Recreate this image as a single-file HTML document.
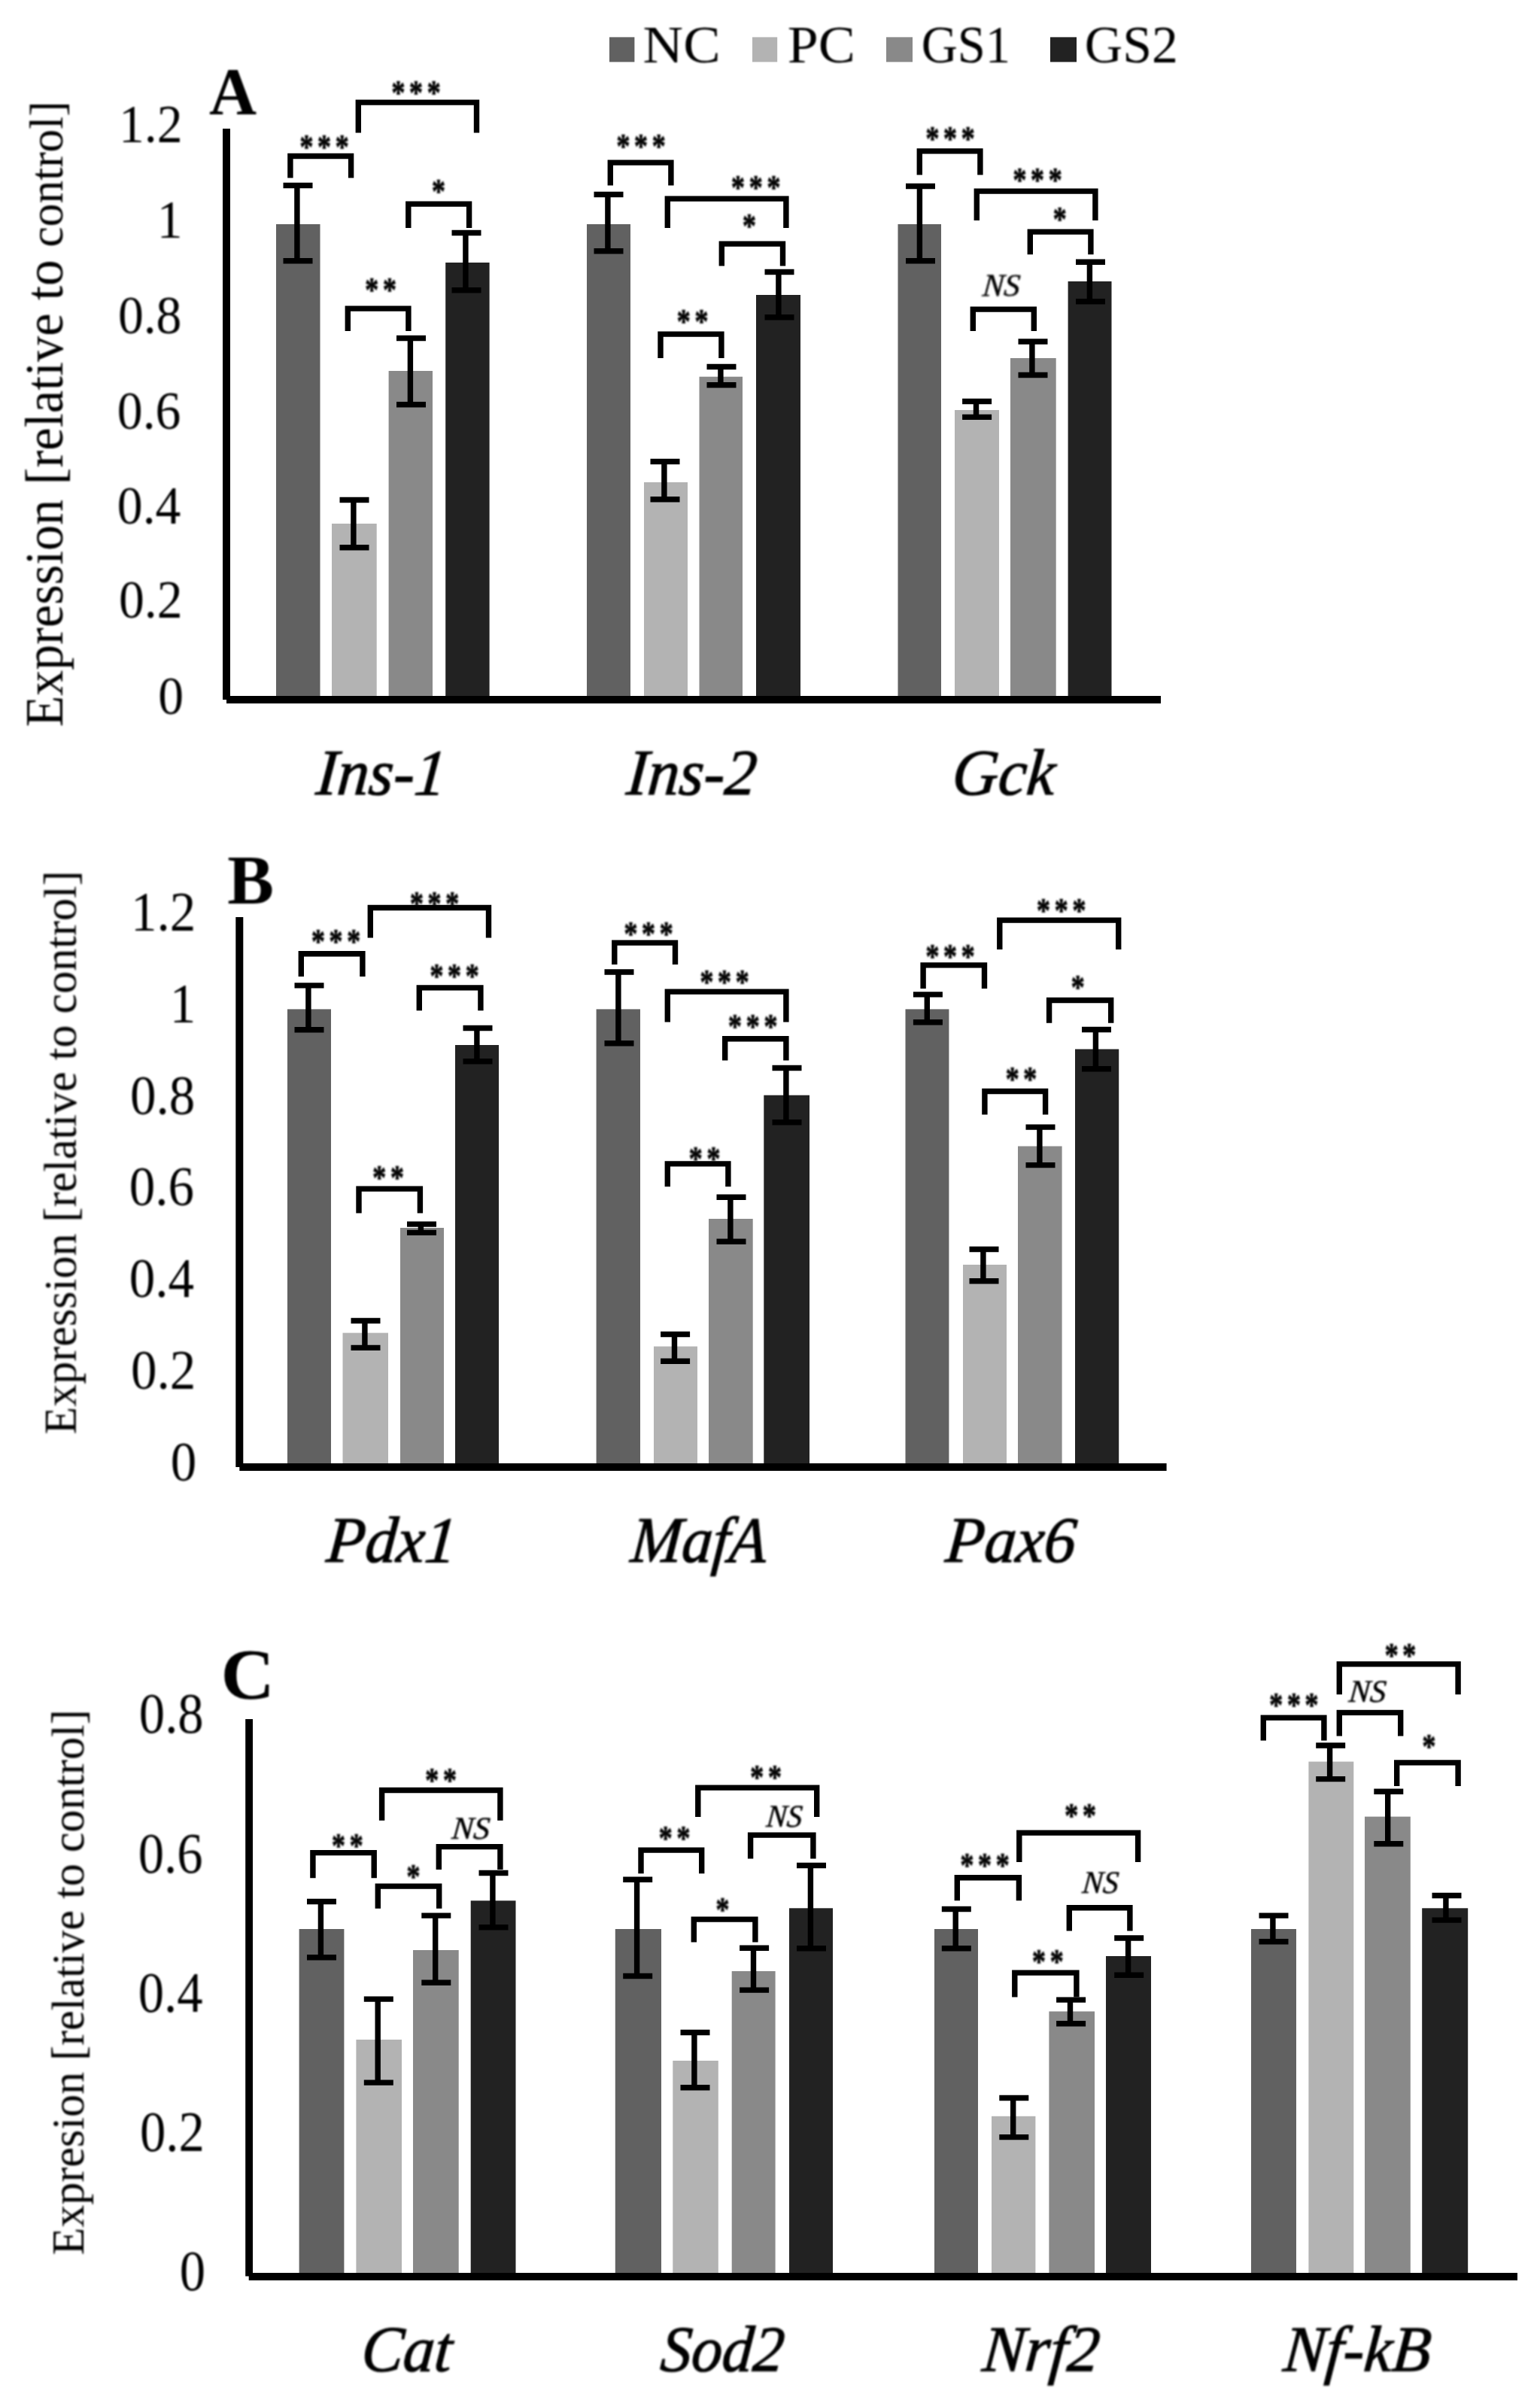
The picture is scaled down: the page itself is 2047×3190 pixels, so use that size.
<!DOCTYPE html>
<html><head><meta charset="utf-8"><title>Figure</title>
<style>
html,body{margin:0;padding:0;background:#fff}
svg{display:block}
text{font-family:"Liberation Serif",serif;fill:#000}
.st{font-family:"Liberation Serif",serif}
</style></head><body>
<svg width="2047" height="3190" viewBox="0 0 2047 3190">
<defs><filter id="b" x="0" y="0" width="2047" height="3190" filterUnits="userSpaceOnUse"><feGaussianBlur stdDeviation="0.9"/></filter></defs>
<rect width="2047" height="3190" fill="#fff"/>
<rect x="810.0" y="49.4" width="33.4" height="33.0" fill="#616161"/>
<rect x="1000.0" y="49.4" width="33.2" height="33.0" fill="#b3b3b3"/>
<rect x="1178.0" y="49.4" width="35.0" height="33.0" fill="#898989"/>
<rect x="1396.0" y="49.4" width="35.0" height="33.0" fill="#222222"/>
<rect x="367.0" y="298.0" width="58.5" height="629.0" fill="#616161"/>
<rect x="441.0" y="696.0" width="59.7" height="231.0" fill="#b3b3b3"/>
<rect x="516.6" y="493.0" width="58.4" height="434.0" fill="#898989"/>
<rect x="592.2" y="349.0" width="58.4" height="578.0" fill="#222222"/>
<rect x="780.0" y="298.0" width="58.0" height="629.0" fill="#616161"/>
<rect x="856.0" y="641.0" width="58.0" height="286.0" fill="#b3b3b3"/>
<rect x="929.5" y="500.7" width="57.5" height="426.3" fill="#898989"/>
<rect x="1005.0" y="392.0" width="59.0" height="535.0" fill="#222222"/>
<rect x="1193.5" y="298.0" width="57.5" height="629.0" fill="#616161"/>
<rect x="1269.0" y="545.0" width="59.0" height="382.0" fill="#b3b3b3"/>
<rect x="1343.0" y="476.0" width="60.7" height="451.0" fill="#898989"/>
<rect x="1419.6" y="374.0" width="57.9" height="553.0" fill="#222222"/>
<rect x="296" y="171" width="10" height="759" fill="#000"/>
<rect x="301" y="925" width="1242" height="10" fill="#000"/>
<path d="M376.5 246.5H415.5M376.5 346.8H415.5M394.9 246.5V346.8" stroke="#000" stroke-width="7.4" fill="none"/>
<path d="M451.5 664.5H490.5M451.5 727.8H490.5M469.9 664.5V727.8" stroke="#000" stroke-width="7.4" fill="none"/>
<path d="M527.0 449.5H566.0M527.0 537.8H566.0M545.4 449.5V537.8" stroke="#000" stroke-width="7.4" fill="none"/>
<path d="M600.5 309.5H639.5M600.5 385.8H639.5M618.9 309.5V385.8" stroke="#000" stroke-width="7.4" fill="none"/>
<path d="M789.5 258.5H828.5M789.5 333.8H828.5M807.9 258.5V333.8" stroke="#000" stroke-width="7.4" fill="none"/>
<path d="M864.5 613.5H903.5M864.5 663.8H903.5M882.9 613.5V663.8" stroke="#000" stroke-width="7.4" fill="none"/>
<path d="M939.5 487.5H978.5M939.5 511.8H978.5M957.9 487.5V511.8" stroke="#000" stroke-width="7.4" fill="none"/>
<path d="M1016.5 361.5H1055.5M1016.5 421.8H1055.5M1034.9 361.5V421.8" stroke="#000" stroke-width="7.4" fill="none"/>
<path d="M1204.0 247.5H1243.0M1204.0 346.8H1243.0M1222.4 247.5V346.8" stroke="#000" stroke-width="7.4" fill="none"/>
<path d="M1279.1 533.5H1318.1M1279.1 554.4H1318.1M1297.5 533.5V554.4" stroke="#000" stroke-width="7.4" fill="none"/>
<path d="M1353.5 454.0H1392.5M1353.5 498.5H1392.5M1371.9 454.0V498.5" stroke="#000" stroke-width="7.4" fill="none"/>
<path d="M1430.0 348.2H1469.0M1430.0 400.8H1469.0M1448.4 348.2V400.8" stroke="#000" stroke-width="7.4" fill="none"/>
<path d="M385.9 236.5V207.5H466.6V236.5" stroke="#000" stroke-width="7.4" fill="none" stroke-linejoin="miter"/>
<path d="M476.3 176.5V136.1H633.5V176.5" stroke="#000" stroke-width="7.4" fill="none" stroke-linejoin="miter"/>
<path d="M542.8 303.0V271.1H623.6V303.0" stroke="#000" stroke-width="7.4" fill="none" stroke-linejoin="miter"/>
<path d="M462.3 440.0V410.1H542.9V440.0" stroke="#000" stroke-width="7.4" fill="none" stroke-linejoin="miter"/>
<path d="M811.3 246.5V216.1H891.9V246.5" stroke="#000" stroke-width="7.4" fill="none" stroke-linejoin="miter"/>
<path d="M887.3 303.0V264.1H1044.9V303.0" stroke="#000" stroke-width="7.4" fill="none" stroke-linejoin="miter"/>
<path d="M959.3 353.5V324.1H1040.5V353.5" stroke="#000" stroke-width="7.4" fill="none" stroke-linejoin="miter"/>
<path d="M878.0 475.9V444.1H958.9V475.9" stroke="#000" stroke-width="7.4" fill="none" stroke-linejoin="miter"/>
<path d="M1222.3 232.5V200.9H1302.9V232.5" stroke="#000" stroke-width="7.4" fill="none" stroke-linejoin="miter"/>
<path d="M1298.3 293.1V254.1H1455.9V293.1" stroke="#000" stroke-width="7.4" fill="none" stroke-linejoin="miter"/>
<path d="M1369.3 338.3V308.1H1449.9V338.3" stroke="#000" stroke-width="7.4" fill="none" stroke-linejoin="miter"/>
<path d="M1293.3 440.0V411.1H1374.3V440.0" stroke="#000" stroke-width="7.4" fill="none" stroke-linejoin="miter"/>
<rect x="382.0" y="1341.4" width="58.0" height="605.1" fill="#616161"/>
<rect x="455.5" y="1771.6" width="60.5" height="174.9" fill="#b3b3b3"/>
<rect x="532.0" y="1632.0" width="58.0" height="314.5" fill="#898989"/>
<rect x="605.0" y="1389.0" width="58.0" height="557.5" fill="#222222"/>
<rect x="792.6" y="1341.4" width="58.4" height="605.1" fill="#616161"/>
<rect x="869.0" y="1789.6" width="58.0" height="156.9" fill="#b3b3b3"/>
<rect x="942.0" y="1620.0" width="58.7" height="326.5" fill="#898989"/>
<rect x="1015.3" y="1455.7" width="60.7" height="490.8" fill="#222222"/>
<rect x="1203.5" y="1341.4" width="57.9" height="605.1" fill="#616161"/>
<rect x="1280.0" y="1681.0" width="58.0" height="265.5" fill="#b3b3b3"/>
<rect x="1353.0" y="1523.5" width="58.6" height="423.0" fill="#898989"/>
<rect x="1429.0" y="1394.5" width="58.2" height="552.0" fill="#222222"/>
<rect x="313.3" y="1219" width="10" height="731" fill="#000"/>
<rect x="318.3" y="1945" width="1232.3" height="10" fill="#000"/>
<path d="M391.5 1309.9H430.5M391.5 1368.8H430.5M409.9 1309.9V1368.8" stroke="#000" stroke-width="7.4" fill="none"/>
<path d="M466.5 1755.5H505.5M466.5 1791.4H505.5M484.9 1755.5V1791.4" stroke="#000" stroke-width="7.4" fill="none"/>
<path d="M541.0 1627.1H580.0M541.0 1638.4H580.0M559.4 1627.1V1638.4" stroke="#000" stroke-width="7.4" fill="none"/>
<path d="M615.5 1366.5H654.5M615.5 1410.8H654.5M633.9 1366.5V1410.8" stroke="#000" stroke-width="7.4" fill="none"/>
<path d="M803.5 1292.0H842.5M803.5 1386.8H842.5M821.9 1292.0V1386.8" stroke="#000" stroke-width="7.4" fill="none"/>
<path d="M878.1 1773.5H917.1M878.1 1809.3H917.1M896.5 1773.5V1809.3" stroke="#000" stroke-width="7.4" fill="none"/>
<path d="M952.5 1591.2H991.5M952.5 1650.3H991.5M970.9 1591.2V1650.3" stroke="#000" stroke-width="7.4" fill="none"/>
<path d="M1026.5 1419.5H1065.5M1026.5 1491.8H1065.5M1044.9 1419.5V1491.8" stroke="#000" stroke-width="7.4" fill="none"/>
<path d="M1213.9 1321.9H1252.9M1213.9 1358.8H1252.9M1232.3 1321.9V1358.8" stroke="#000" stroke-width="7.4" fill="none"/>
<path d="M1288.5 1660.5H1327.5M1288.5 1702.8H1327.5M1306.9 1660.5V1702.8" stroke="#000" stroke-width="7.4" fill="none"/>
<path d="M1363.5 1498.1H1402.5M1363.5 1548.6H1402.5M1381.9 1498.1V1548.6" stroke="#000" stroke-width="7.4" fill="none"/>
<path d="M1438.0 1368.5H1477.0M1438.0 1420.8H1477.0M1456.4 1368.5V1420.8" stroke="#000" stroke-width="7.4" fill="none"/>
<path d="M400.3 1298.0V1267.7H481.9V1298.0" stroke="#000" stroke-width="7.4" fill="none" stroke-linejoin="miter"/>
<path d="M492.3 1246.5V1206.5H649.5V1246.5" stroke="#000" stroke-width="7.4" fill="none" stroke-linejoin="miter"/>
<path d="M557.3 1343.2V1312.9H638.9V1343.2" stroke="#000" stroke-width="7.4" fill="none" stroke-linejoin="miter"/>
<path d="M477.0 1612.5V1580.1H558.4V1612.5" stroke="#000" stroke-width="7.4" fill="none" stroke-linejoin="miter"/>
<path d="M816.8 1282.0V1253.1H897.5V1282.0" stroke="#000" stroke-width="7.4" fill="none" stroke-linejoin="miter"/>
<path d="M887.3 1358.5V1318.1H1044.9V1358.5" stroke="#000" stroke-width="7.4" fill="none" stroke-linejoin="miter"/>
<path d="M963.7 1409.5V1380.7H1044.9V1409.5" stroke="#000" stroke-width="7.4" fill="none" stroke-linejoin="miter"/>
<path d="M887.3 1577.2V1546.9H967.9V1577.2" stroke="#000" stroke-width="7.4" fill="none" stroke-linejoin="miter"/>
<path d="M1227.1 1313.9V1282.9H1308.5V1313.9" stroke="#000" stroke-width="7.4" fill="none" stroke-linejoin="miter"/>
<path d="M1328.8 1262.1V1223.1H1486.7V1262.1" stroke="#000" stroke-width="7.4" fill="none" stroke-linejoin="miter"/>
<path d="M1394.6 1359.8V1329.5H1476.7V1359.8" stroke="#000" stroke-width="7.4" fill="none" stroke-linejoin="miter"/>
<path d="M1308.9 1481.5V1450.5H1389.6V1481.5" stroke="#000" stroke-width="7.4" fill="none" stroke-linejoin="miter"/>
<rect x="397.6" y="2564.0" width="59.8" height="459.0" fill="#616161"/>
<rect x="473.4" y="2711.0" width="60.6" height="312.0" fill="#b3b3b3"/>
<rect x="549.0" y="2592.0" width="60.7" height="431.0" fill="#898989"/>
<rect x="625.7" y="2526.3" width="59.8" height="496.7" fill="#222222"/>
<rect x="817.8" y="2564.0" width="61.2" height="459.0" fill="#616161"/>
<rect x="894.3" y="2739.0" width="60.5" height="284.0" fill="#b3b3b3"/>
<rect x="972.7" y="2620.0" width="57.9" height="403.0" fill="#898989"/>
<rect x="1049.0" y="2536.3" width="58.0" height="486.7" fill="#222222"/>
<rect x="1242.0" y="2564.0" width="58.0" height="459.0" fill="#616161"/>
<rect x="1318.0" y="2812.8" width="58.4" height="210.2" fill="#b3b3b3"/>
<rect x="1394.4" y="2673.5" width="60.6" height="349.5" fill="#898989"/>
<rect x="1470.0" y="2600.0" width="60.0" height="423.0" fill="#222222"/>
<rect x="1663.0" y="2564.0" width="60.0" height="459.0" fill="#616161"/>
<rect x="1739.4" y="2341.5" width="59.9" height="681.5" fill="#b3b3b3"/>
<rect x="1814.0" y="2414.6" width="60.8" height="608.4" fill="#898989"/>
<rect x="1890.2" y="2536.3" width="61.0" height="486.7" fill="#222222"/>
<rect x="326.2" y="2285" width="9.8" height="740.5" fill="#000"/>
<rect x="330.7" y="3021" width="1686.3" height="10" fill="#000"/>
<path d="M408.0 2527.5H447.0M408.0 2601.8H447.0M426.4 2527.5V2601.8" stroke="#000" stroke-width="7.4" fill="none"/>
<path d="M483.8 2657.1H522.8M483.8 2768.1H522.8M502.2 2657.1V2768.1" stroke="#000" stroke-width="7.4" fill="none"/>
<path d="M560.3 2546.1H599.3M560.3 2635.2H599.3M578.7 2546.1V2635.2" stroke="#000" stroke-width="7.4" fill="none"/>
<path d="M636.5 2489.5H675.5M636.5 2561.8H675.5M654.9 2489.5V2561.8" stroke="#000" stroke-width="7.4" fill="none"/>
<path d="M828.2 2498.2H867.2M828.2 2626.5H867.2M846.6 2498.2V2626.5" stroke="#000" stroke-width="7.4" fill="none"/>
<path d="M904.5 2701.5H943.5M904.5 2774.8H943.5M922.9 2701.5V2774.8" stroke="#000" stroke-width="7.4" fill="none"/>
<path d="M983.1 2589.3H1022.1M983.1 2645.1H1022.1M1001.5 2589.3V2645.1" stroke="#000" stroke-width="7.4" fill="none"/>
<path d="M1059.0 2479.5H1098.0M1059.0 2589.8H1098.0M1077.4 2479.5V2589.8" stroke="#000" stroke-width="7.4" fill="none"/>
<path d="M1251.8 2537.5H1290.8M1251.8 2589.8H1290.8M1270.2 2537.5V2589.8" stroke="#000" stroke-width="7.4" fill="none"/>
<path d="M1328.3 2788.5H1367.3M1328.3 2840.6H1367.3M1346.7 2788.5V2840.6" stroke="#000" stroke-width="7.4" fill="none"/>
<path d="M1404.1 2658.1H1443.1M1404.1 2689.8H1443.1M1422.5 2658.1V2689.8" stroke="#000" stroke-width="7.4" fill="none"/>
<path d="M1481.2 2576.0H1520.2M1481.2 2625.2H1520.2M1499.6 2576.0V2625.2" stroke="#000" stroke-width="7.4" fill="none"/>
<path d="M1673.5 2546.1H1712.5M1673.5 2580.8H1712.5M1691.9 2546.1V2580.8" stroke="#000" stroke-width="7.4" fill="none"/>
<path d="M1749.2 2320.0H1788.2M1749.2 2364.6H1788.2M1767.6 2320.0V2364.6" stroke="#000" stroke-width="7.4" fill="none"/>
<path d="M1826.3 2381.2H1865.3M1826.3 2450.8H1865.3M1844.7 2381.2V2450.8" stroke="#000" stroke-width="7.4" fill="none"/>
<path d="M1903.5 2519.5H1942.5M1903.5 2552.1H1942.5M1921.9 2519.5V2552.1" stroke="#000" stroke-width="7.4" fill="none"/>
<path d="M415.9 2496.3V2462.6H497.2V2496.3" stroke="#000" stroke-width="7.4" fill="none" stroke-linejoin="miter"/>
<path d="M507.6 2419.8V2379.5H664.9V2419.8" stroke="#000" stroke-width="7.4" fill="none" stroke-linejoin="miter"/>
<path d="M502.3 2536.8V2507.1H583.7V2536.8" stroke="#000" stroke-width="7.4" fill="none" stroke-linejoin="miter"/>
<path d="M583.3 2484.9V2454.6H664.9V2484.9" stroke="#000" stroke-width="7.4" fill="none" stroke-linejoin="miter"/>
<path d="M852.0 2490.3V2459.1H932.7V2490.3" stroke="#000" stroke-width="7.4" fill="none" stroke-linejoin="miter"/>
<path d="M927.8 2415.1V2376.1H1085.7V2415.1" stroke="#000" stroke-width="7.4" fill="none" stroke-linejoin="miter"/>
<path d="M922.3 2581.5V2551.1H1003.9V2581.5" stroke="#000" stroke-width="7.4" fill="none" stroke-linejoin="miter"/>
<path d="M997.6 2470.5V2439.1H1080.9V2470.5" stroke="#000" stroke-width="7.4" fill="none" stroke-linejoin="miter"/>
<path d="M1272.3 2526.2V2495.8H1354.4V2526.2" stroke="#000" stroke-width="7.4" fill="none" stroke-linejoin="miter"/>
<path d="M1354.8 2475.0V2436.1H1512.6V2475.0" stroke="#000" stroke-width="7.4" fill="none" stroke-linejoin="miter"/>
<path d="M1421.3 2566.5V2535.7H1501.9V2566.5" stroke="#000" stroke-width="7.4" fill="none" stroke-linejoin="miter"/>
<path d="M1348.8 2654.5V2622.1H1430.9V2654.5" stroke="#000" stroke-width="7.4" fill="none" stroke-linejoin="miter"/>
<path d="M1679.3 2313.5V2283.1H1759.9V2313.5" stroke="#000" stroke-width="7.4" fill="none" stroke-linejoin="miter"/>
<path d="M1780.3 2252.2V2211.9H1938.1V2252.2" stroke="#000" stroke-width="7.4" fill="none" stroke-linejoin="miter"/>
<path d="M1780.3 2307.5V2276.4H1861.7V2307.5" stroke="#000" stroke-width="7.4" fill="none" stroke-linejoin="miter"/>
<path d="M1856.7 2373.9V2342.9H1938.1V2373.9" stroke="#000" stroke-width="7.4" fill="none" stroke-linejoin="miter"/>
<g filter="url(#b)">
<text x="854.64" y="82.5" font-size="70" textLength="102.97" lengthAdjust="spacingAndGlyphs">NC</text>
<text x="1046.85" y="82.5" font-size="70" textLength="90.04" lengthAdjust="spacingAndGlyphs">PC</text>
<text x="1224.72" y="82.5" font-size="70" textLength="118.40" lengthAdjust="spacingAndGlyphs">GS1</text>
<text x="1441.82" y="82.5" font-size="70" textLength="124.05" lengthAdjust="spacingAndGlyphs">GS2</text>
<text x="278.00" y="150.8" font-size="88" textLength="63.10" lengthAdjust="spacingAndGlyphs" font-weight="bold">A</text>
<text transform="translate(398.17,210.8) scale(0.8,1)" font-size="46" font-weight="bold" stroke="#000" stroke-width="0.7" stroke-linejoin="round" letter-spacing="6.62">***</text>
<text transform="translate(520.17,139.0) scale(0.8,1)" font-size="46" font-weight="bold" stroke="#000" stroke-width="0.7" stroke-linejoin="round" letter-spacing="6.62">***</text>
<text transform="translate(573.67,270.2) scale(0.8,1)" font-size="46" font-weight="bold" stroke="#000" stroke-width="0.7" stroke-linejoin="round" letter-spacing="6.62">*</text>
<text transform="translate(485.02,401.2) scale(0.8,1)" font-size="46" font-weight="bold" stroke="#000" stroke-width="0.7" stroke-linejoin="round" letter-spacing="6.62">**</text>
<text transform="translate(819.17,210.2) scale(0.8,1)" font-size="46" font-weight="bold" stroke="#000" stroke-width="0.7" stroke-linejoin="round" letter-spacing="6.62">***</text>
<text transform="translate(971.77,265.2) scale(0.8,1)" font-size="46" font-weight="bold" stroke="#000" stroke-width="0.7" stroke-linejoin="round" letter-spacing="6.62">***</text>
<text transform="translate(986.87,316.2) scale(0.8,1)" font-size="46" font-weight="bold" stroke="#000" stroke-width="0.7" stroke-linejoin="round" letter-spacing="6.62">*</text>
<text transform="translate(899.52,442.8) scale(0.8,1)" font-size="46" font-weight="bold" stroke="#000" stroke-width="0.7" stroke-linejoin="round" letter-spacing="6.62">**</text>
<text transform="translate(1230.17,200.2) scale(0.8,1)" font-size="46" font-weight="bold" stroke="#000" stroke-width="0.7" stroke-linejoin="round" letter-spacing="6.62">***</text>
<text transform="translate(1346.17,255.3) scale(0.8,1)" font-size="46" font-weight="bold" stroke="#000" stroke-width="0.7" stroke-linejoin="round" letter-spacing="6.62">***</text>
<text transform="translate(1399.47,307.2) scale(0.8,1)" font-size="46" font-weight="bold" stroke="#000" stroke-width="0.7" stroke-linejoin="round" letter-spacing="6.62">*</text>
<text transform="translate(1305.26,393.6) skewX(-5.0)" font-size="42" textLength="49.63" lengthAdjust="spacingAndGlyphs" font-style="italic" stroke="#000" stroke-width="0.5">NS</text>
<text x="157.96" y="188.8" font-size="72" textLength="84.51" lengthAdjust="spacingAndGlyphs">1.2</text>
<text x="208.67" y="315.6" font-size="72" textLength="33.80" lengthAdjust="spacingAndGlyphs">1</text>
<text x="156.90" y="443.4" font-size="72" textLength="84.51" lengthAdjust="spacingAndGlyphs">0.8</text>
<text x="155.85" y="569.7" font-size="72" textLength="84.51" lengthAdjust="spacingAndGlyphs">0.6</text>
<text x="155.85" y="696.0" font-size="72" textLength="84.51" lengthAdjust="spacingAndGlyphs">0.4</text>
<text x="157.96" y="820.8" font-size="72" textLength="84.51" lengthAdjust="spacingAndGlyphs">0.2</text>
<text x="210.31" y="948.6" font-size="72" textLength="33.80" lengthAdjust="spacingAndGlyphs">0</text>
<text transform="translate(83.3,966.26) rotate(-90)" font-size="72" textLength="302.36" lengthAdjust="spacingAndGlyphs">Expression</text>
<text transform="translate(83.3,644.28) rotate(-90)" font-size="72" textLength="227.88" lengthAdjust="spacingAndGlyphs">[relative</text>
<text transform="translate(83.3,399.20) rotate(-90)" font-size="72" textLength="54.07" lengthAdjust="spacingAndGlyphs">to</text>
<text transform="translate(83.3,328.42) rotate(-90)" font-size="64" textLength="194.15" lengthAdjust="spacingAndGlyphs">control]</text>
<text transform="translate(418.71,1056.3) skewX(-5.0)" font-size="86" textLength="172.30" lengthAdjust="spacingAndGlyphs" font-style="italic" stroke="#000" stroke-width="1.2">Ins-1</text>
<text transform="translate(831.31,1056.3) skewX(-5.0)" font-size="86" textLength="172.05" lengthAdjust="spacingAndGlyphs" font-style="italic" stroke="#000" stroke-width="1.2">Ins-2</text>
<text transform="translate(1264.03,1056.3) skewX(-5.0)" font-size="86" textLength="136.29" lengthAdjust="spacingAndGlyphs" font-style="italic" stroke="#000" stroke-width="1.2">Gck</text>
<text x="302.35" y="1201.0" font-size="94" textLength="61.79" lengthAdjust="spacingAndGlyphs" font-weight="bold">B</text>
<text transform="translate(413.67,1266.8) scale(0.8,1)" font-size="46" font-weight="bold" stroke="#000" stroke-width="0.7" stroke-linejoin="round" letter-spacing="6.62">***</text>
<text transform="translate(544.67,1216.8) scale(0.8,1)" font-size="46" font-weight="bold" stroke="#000" stroke-width="0.7" stroke-linejoin="round" letter-spacing="6.62">***</text>
<text transform="translate(571.17,1313.3) scale(0.8,1)" font-size="46" font-weight="bold" stroke="#000" stroke-width="0.7" stroke-linejoin="round" letter-spacing="6.62">***</text>
<text transform="translate(495.02,1580.6) scale(0.8,1)" font-size="46" font-weight="bold" stroke="#000" stroke-width="0.7" stroke-linejoin="round" letter-spacing="6.62">**</text>
<text transform="translate(829.17,1256.8) scale(0.8,1)" font-size="46" font-weight="bold" stroke="#000" stroke-width="0.7" stroke-linejoin="round" letter-spacing="6.62">***</text>
<text transform="translate(930.17,1321.3) scale(0.8,1)" font-size="46" font-weight="bold" stroke="#000" stroke-width="0.7" stroke-linejoin="round" letter-spacing="6.62">***</text>
<text transform="translate(967.77,1380.3) scale(0.8,1)" font-size="46" font-weight="bold" stroke="#000" stroke-width="0.7" stroke-linejoin="round" letter-spacing="6.62">***</text>
<text transform="translate(915.52,1555.8) scale(0.8,1)" font-size="46" font-weight="bold" stroke="#000" stroke-width="0.7" stroke-linejoin="round" letter-spacing="6.62">**</text>
<text transform="translate(1230.17,1286.8) scale(0.8,1)" font-size="46" font-weight="bold" stroke="#000" stroke-width="0.7" stroke-linejoin="round" letter-spacing="6.62">***</text>
<text transform="translate(1377.77,1226.2) scale(0.8,1)" font-size="46" font-weight="bold" stroke="#000" stroke-width="0.7" stroke-linejoin="round" letter-spacing="6.62">***</text>
<text transform="translate(1423.47,1327.8) scale(0.8,1)" font-size="46" font-weight="bold" stroke="#000" stroke-width="0.7" stroke-linejoin="round" letter-spacing="6.62">*</text>
<text transform="translate(1336.42,1449.6) scale(0.8,1)" font-size="46" font-weight="bold" stroke="#000" stroke-width="0.7" stroke-linejoin="round" letter-spacing="6.62">**</text>
<text x="174.00" y="1236.8" font-size="73" textLength="86.23" lengthAdjust="spacingAndGlyphs">1.2</text>
<text x="225.74" y="1358.6" font-size="73" textLength="34.49" lengthAdjust="spacingAndGlyphs">1</text>
<text x="172.92" y="1480.5" font-size="73" textLength="86.23" lengthAdjust="spacingAndGlyphs">0.8</text>
<text x="171.85" y="1602.3" font-size="73" textLength="86.23" lengthAdjust="spacingAndGlyphs">0.6</text>
<text x="171.85" y="1724.1" font-size="73" textLength="86.23" lengthAdjust="spacingAndGlyphs">0.4</text>
<text x="174.00" y="1846.0" font-size="73" textLength="86.23" lengthAdjust="spacingAndGlyphs">0.2</text>
<text x="226.86" y="1967.8" font-size="73" textLength="34.49" lengthAdjust="spacingAndGlyphs">0</text>
<text transform="translate(100.8,1906.54) rotate(-90)" font-size="62" textLength="749.19" lengthAdjust="spacingAndGlyphs">Expression [relative to control]</text>
<text transform="translate(432.51,2076.3) skewX(-5.0)" font-size="86" textLength="172.08" lengthAdjust="spacingAndGlyphs" font-style="italic" stroke="#000" stroke-width="1.2">Pdx1</text>
<text transform="translate(836.87,2076.3) skewX(-5.0)" font-size="86" textLength="180.41" lengthAdjust="spacingAndGlyphs" font-style="italic" stroke="#000" stroke-width="1.2">MafA</text>
<text transform="translate(1255.31,2076.3) skewX(-5.0)" font-size="86" textLength="172.83" lengthAdjust="spacingAndGlyphs" font-style="italic" stroke="#000" stroke-width="1.2">Pax6</text>
<text x="293.56" y="2258.0" font-size="96" textLength="71.46" lengthAdjust="spacingAndGlyphs" font-weight="bold">C</text>
<text transform="translate(440.82,2468.8) scale(0.8,1)" font-size="46" font-weight="bold" stroke="#000" stroke-width="0.7" stroke-linejoin="round" letter-spacing="6.62">**</text>
<text transform="translate(565.02,2382.2) scale(0.8,1)" font-size="46" font-weight="bold" stroke="#000" stroke-width="0.7" stroke-linejoin="round" letter-spacing="6.62">**</text>
<text transform="translate(540.37,2509.8) scale(0.8,1)" font-size="46" font-weight="bold" stroke="#000" stroke-width="0.7" stroke-linejoin="round" letter-spacing="6.62">*</text>
<text transform="translate(875.62,2458.8) scale(0.8,1)" font-size="46" font-weight="bold" stroke="#000" stroke-width="0.7" stroke-linejoin="round" letter-spacing="6.62">**</text>
<text transform="translate(997.02,2377.7) scale(0.8,1)" font-size="46" font-weight="bold" stroke="#000" stroke-width="0.7" stroke-linejoin="round" letter-spacing="6.62">**</text>
<text transform="translate(951.27,2554.4) scale(0.8,1)" font-size="46" font-weight="bold" stroke="#000" stroke-width="0.7" stroke-linejoin="round" letter-spacing="6.62">*</text>
<text transform="translate(1276.17,2495.3) scale(0.8,1)" font-size="46" font-weight="bold" stroke="#000" stroke-width="0.7" stroke-linejoin="round" letter-spacing="6.62">***</text>
<text transform="translate(1415.02,2428.8) scale(0.8,1)" font-size="46" font-weight="bold" stroke="#000" stroke-width="0.7" stroke-linejoin="round" letter-spacing="6.62">**</text>
<text transform="translate(1371.72,2622.8) scale(0.8,1)" font-size="46" font-weight="bold" stroke="#000" stroke-width="0.7" stroke-linejoin="round" letter-spacing="6.62">**</text>
<text transform="translate(1686.97,2281.8) scale(0.8,1)" font-size="46" font-weight="bold" stroke="#000" stroke-width="0.7" stroke-linejoin="round" letter-spacing="6.62">***</text>
<text transform="translate(1840.42,2215.8) scale(0.8,1)" font-size="46" font-weight="bold" stroke="#000" stroke-width="0.7" stroke-linejoin="round" letter-spacing="6.62">**</text>
<text transform="translate(1890.17,2336.8) scale(0.8,1)" font-size="46" font-weight="bold" stroke="#000" stroke-width="0.7" stroke-linejoin="round" letter-spacing="6.62">*</text>
<text transform="translate(599.67,2444.0) skewX(-5.0)" font-size="42" textLength="50.33" lengthAdjust="spacingAndGlyphs" font-style="italic" stroke="#000" stroke-width="0.5">NS</text>
<text transform="translate(1017.64,2428.0) skewX(-5.0)" font-size="42" textLength="47.73" lengthAdjust="spacingAndGlyphs" font-style="italic" stroke="#000" stroke-width="0.5">NS</text>
<text transform="translate(1437.64,2515.7) skewX(-5.0)" font-size="42" textLength="48.13" lengthAdjust="spacingAndGlyphs" font-style="italic" stroke="#000" stroke-width="0.5">NS</text>
<text transform="translate(1791.96,2261.7) skewX(-5.0)" font-size="42" textLength="49.43" lengthAdjust="spacingAndGlyphs" font-style="italic" stroke="#000" stroke-width="0.5">NS</text>
<text x="184.86" y="2303.3" font-size="76" textLength="85.78" lengthAdjust="spacingAndGlyphs">0.8</text>
<text x="183.79" y="2488.5" font-size="76" textLength="85.78" lengthAdjust="spacingAndGlyphs">0.6</text>
<text x="183.79" y="2673.6" font-size="76" textLength="85.78" lengthAdjust="spacingAndGlyphs">0.4</text>
<text x="185.93" y="2858.8" font-size="76" textLength="85.78" lengthAdjust="spacingAndGlyphs">0.2</text>
<text x="238.83" y="3043.9" font-size="76" textLength="34.31" lengthAdjust="spacingAndGlyphs">0</text>
<text transform="translate(111.1,2997.44) rotate(-90)" font-size="62" textLength="725.28" lengthAdjust="spacingAndGlyphs">Expresion [relative to control]</text>
<text transform="translate(478.91,3151.8) skewX(-5.0)" font-size="86" textLength="119.76" lengthAdjust="spacingAndGlyphs" font-style="italic" stroke="#000" stroke-width="1.2">Cat</text>
<text transform="translate(876.40,3151.8) skewX(-5.0)" font-size="86" textLength="163.51" lengthAdjust="spacingAndGlyphs" font-style="italic" stroke="#000" stroke-width="1.2">Sod2</text>
<text transform="translate(1304.22,3151.8) skewX(-5.0)" font-size="86" textLength="155.02" lengthAdjust="spacingAndGlyphs" font-style="italic" stroke="#000" stroke-width="1.2">Nrf2</text>
<text transform="translate(1704.31,3151.8) skewX(-5.0)" font-size="86" textLength="195.55" lengthAdjust="spacingAndGlyphs" font-style="italic" stroke="#000" stroke-width="1.2">Nf-kB</text>
</g>
</svg>
</body></html>
